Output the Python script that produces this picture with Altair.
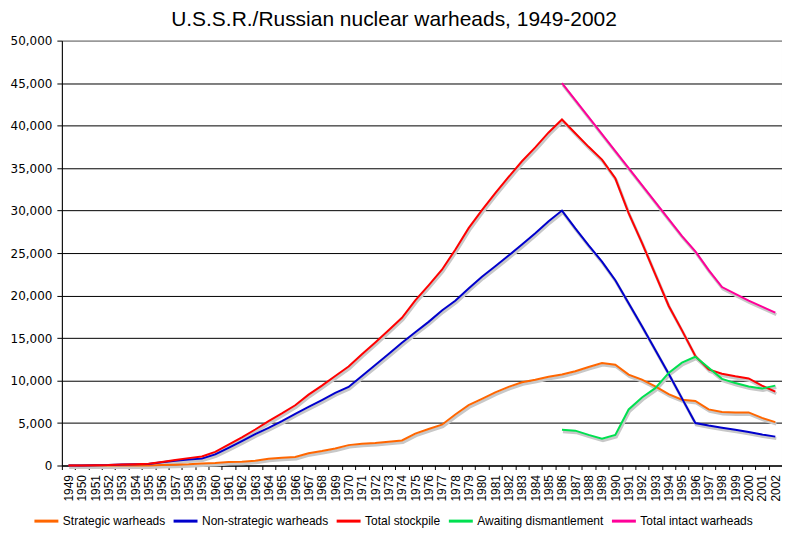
import altair as alt
import pandas as pd

years = list(range(1949, 2003))

strategic = [0, 0, 0, 0, 0, 0, 10, 50, 100, 150, 250, 300, 400, 450, 550, 800, 900, 1000,
             1450, 1700, 2000, 2400, 2550, 2650, 2800, 2950, 3750, 4300, 4800, 6000, 7100,
             7850, 8600, 9250, 9800, 10100, 10450, 10700, 11100, 11600, 12050, 11850, 10700,
             10100, 9300, 8400, 7750, 7600, 6600, 6300, 6250, 6250, 5600, 5100]

non_strategic = [1, 5, 25, 50, 120, 150, 190, 376, 560, 719, 810, 1305, 2071, 2872, 3688,
                 4421, 5229, 6089, 6889, 7699, 8538, 9243, 10542, 11828, 13115, 14435, 15693,
                 16905, 18244, 19393, 20835, 22212, 23449, 24702, 26004, 27331, 28747, 30000,
                 27900, 25900, 24000, 21800, 19100, 16400, 13600, 10800, 7900, 5000, 4700, 4450,
                 4200, 3950, 3650, 3400]

total_stockpile = [1, 5, 25, 50, 120, 150, 200, 426, 660, 869, 1060, 1605, 2471, 3322, 4238,
                   5221, 6129, 7089, 8339, 9399, 10538, 11643, 13092, 14478, 15915, 17385,
                   19443, 21205, 23044, 25393, 27935, 30062, 32049, 33952, 35804, 37431, 39197,
                   40723, 39100, 37500, 36000, 33800, 29700, 26200, 22500, 18800, 15900, 12900,
                   11300, 10800, 10500, 10250, 9400, 8700]

late_years = list(range(1986, 2003))
awaiting = [4200, 4100, 3600, 3150, 3600, 6600, 8000, 9100, 10900, 12100, 12800, 11500,
            10200, 9700, 9300, 9050, 9400]
total_intact = [45000, 43000, 41000, 39000, 37000, 35000, 33000, 31000, 29000, 27000, 25200,
                23000, 21000, 20200, 19400, 18700, 18000]

series_names = ["Strategic warheads", "Non-strategic warheads", "Total stockpile",
                "Awaiting dismantlement", "Total intact warheads"]
series_colors = ["#FF6600", "#0000CC", "#FF0000", "#00E050", "#FF0099"]

rows = []
for name, ys, vals in [
    (series_names[0], years, strategic),
    (series_names[1], years, non_strategic),
    (series_names[2], years, total_stockpile),
    (series_names[3], late_years, awaiting),
    (series_names[4], late_years, total_intact),
]:
    for yr, v in zip(ys, vals):
        rows.append({"year": yr, "value": v, "series": name})
df = pd.DataFrame(rows)

x_enc = alt.X(
    "year:O",
    scale=alt.Scale(type="band", paddingInner=0, paddingOuter=0, domain=years),
    bandPosition=0.5,
    axis=alt.Axis(
        title=None,
        labelAngle=270,
        labelFont="Liberation Sans",
        labelFontSize=12,
        labelColor="black",
        tickBand="extent",
        tickSize=4,
        tickColor="black",
        domainColor="black",
        labelPadding=5,
        grid=False,
    ),
)

y_enc = alt.Y(
    "value:Q",
    scale=alt.Scale(domain=[0, 50000], nice=False),
    axis=alt.Axis(
        title=None,
        values=list(range(0, 50001, 5000)),
        format=",d",
        labelFont="DejaVu Sans",
        labelFontSize=12,
        labelColor="black",
        tickSize=5,
        tickColor="black",
        domainColor="black",
        labelPadding=5,
        grid=True,
        gridColor={"condition": {"test": "datum.value === 50000", "value": "#888888"},
                   "value": "black"},
        gridOpacity=1,
        gridWidth=1,
    ),
)

shadow = alt.Chart(df).mark_line(
    strokeWidth=3, xOffset=1, yOffset=2
).encode(
    x=x_enc, y=y_enc, detail="series:N",
    color=alt.value("#c8c8c8"),
)

lines = alt.Chart(df).mark_line(strokeWidth=2).encode(
    x=x_enc,
    y=y_enc,
    color=alt.Color(
        "series:N",
        scale=alt.Scale(domain=series_names, range=series_colors),
        sort=series_names,
        legend=alt.Legend(
            title=None,
            orient="none",
            legendX=-29,
            legendY=468,
            direction="horizontal",
            symbolType="stroke",
            symbolSize=576,
            symbolStrokeWidth=3,
            labelFont="Liberation Sans",
            labelFontSize=12,
            labelColor="black",
            labelOffset=3,
            columnPadding=1.5,
        ),
    ),
)

chart = alt.layer(shadow, lines).properties(
    width=722,
    height=426,
    padding={"left": 54, "top": 32, "right": 0, "bottom": 80},
    autosize=alt.AutoSizeParams(type="none"),
    title=alt.TitleParams(
        "U.S.S.R./Russian nuclear warheads, 1949-2002",
        font="Liberation Sans",
        fontSize=21,
        fontWeight="normal",
        color="black",
        anchor="middle",
        dx=-28,
        offset=5,
    ),
).configure_view(stroke="#888888", strokeWidth=1)

chart.save("out.html", embed_options={"renderer": "svg", "actions": False})
